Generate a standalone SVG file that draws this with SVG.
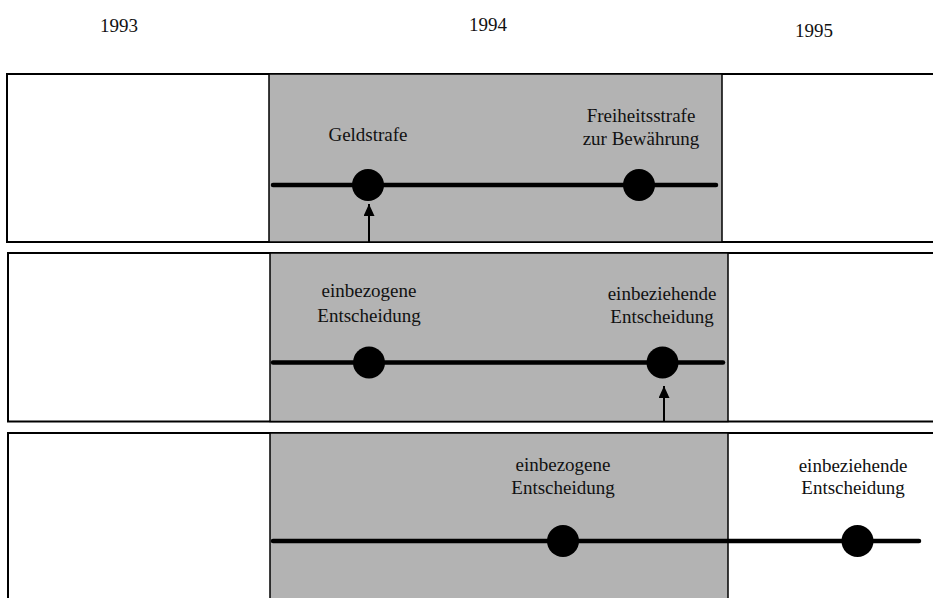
<svg xmlns="http://www.w3.org/2000/svg" width="933" height="598" viewBox="0 0 933 598">
<style>
.panel{fill:#fff;stroke:#000;stroke-width:2}
.gray{fill:#b3b3b3;stroke:#000;stroke-width:1.5}
.tl{stroke:#000;stroke-width:4.5;stroke-linecap:round;fill:none}
.dot{fill:#000}
.arr{stroke:#000;stroke-width:2;fill:none}
</style>
<defs>
<marker id="ah" markerWidth="12" markerHeight="11" refX="12" refY="5.5" orient="auto" markerUnits="userSpaceOnUse" viewBox="0 0 12 11">
<path d="M0,0 L12,5.5 L0,11 Z" fill="#000"/>
</marker>
</defs>
<g font-family="'Liberation Serif', 'DejaVu Serif', serif" font-size="19" fill="#111" text-anchor="middle">
<g id="years">
<text x="119" y="32">1993</text>
<text x="488" y="31">1994</text>
<text x="814" y="37">1995</text>
</g>
<g id="panel1">
<rect class="panel" x="7" y="74" width="940" height="168"/>
<rect class="gray" x="269" y="74" width="453" height="168"/>
<line class="tl" x1="273" y1="185" x2="716" y2="185"/>
<g id="p1-geldstrafe"><circle class="dot" cx="368" cy="185" r="16"/><text x="368" y="141">Geldstrafe</text></g>
<g id="p1-freiheitsstrafe"><circle class="dot" cx="639" cy="185" r="16"/><text x="641" y="122">Freiheitsstrafe</text><text x="641" y="145">zur Bewährung</text></g>
</g>
<g id="panel2">
<rect class="panel" x="8" y="253" width="940" height="168.5"/>
<rect class="gray" x="270" y="253" width="458" height="168.5"/>
<line class="tl" x1="273" y1="362.5" x2="723" y2="362.5"/>
<g id="p2-einbezogene"><circle class="dot" cx="369" cy="362.5" r="16"/><text x="369" y="297">einbezogene</text><text x="369" y="322">Entscheidung</text></g>
<g id="p2-einbeziehende"><circle class="dot" cx="662.5" cy="362.5" r="16"/><text x="662" y="300">einbeziehende</text><text x="662" y="323">Entscheidung</text></g>
</g>
<g id="panel3">
<rect class="panel" x="8" y="433" width="940" height="180"/>
<rect class="gray" x="270" y="433" width="458" height="180"/>
<line class="tl" x1="273" y1="541" x2="919" y2="541"/>
<g id="p3-einbezogene"><circle class="dot" cx="563" cy="541" r="16"/><text x="563" y="471">einbezogene</text><text x="563" y="494">Entscheidung</text></g>
<g id="p3-einbeziehende"><circle class="dot" cx="857.5" cy="541" r="16"/><text x="853" y="472">einbeziehende</text><text x="853" y="494">Entscheidung</text></g>
</g>
</g>
<g id="connectors">
<line class="arr" x1="369" y1="242" x2="369" y2="204" marker-end="url(#ah)"/>
<line class="arr" x1="664" y1="421" x2="664" y2="386" marker-end="url(#ah)"/>
</g>
</svg>
